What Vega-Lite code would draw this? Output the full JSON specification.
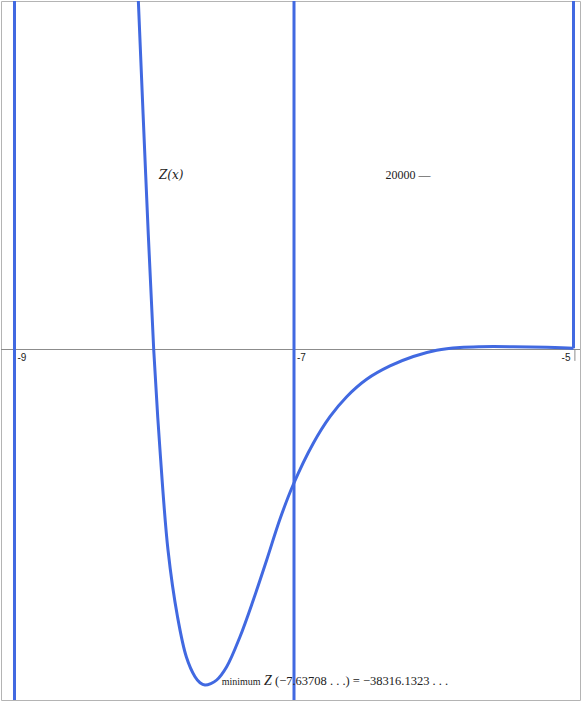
{
  "$schema": "https://vega.github.io/schema/vega-lite/v6.json",
  "width": 579,
  "height": 699,
  "padding": {"left": 1, "top": 1, "right": 1, "bottom": 1},
  "autosize": "none",
  "background": "white",
  "config": {"view": {"stroke": "#b4b4b4", "strokeWidth": 1}},
  "datasets": {
    "curve": [
      {"x": -8.146, "z": 51333},
      {"x": -8.1141, "z": 39913},
      {"x": -8.0612, "z": 19928},
      {"x": -8.0039, "z": 0},
      {"x": -7.9589, "z": -11477},
      {"x": -7.9016, "z": -22897},
      {"x": -7.8336, "z": -30514},
      {"x": -7.7707, "z": -35082},
      {"x": -7.7084, "z": -37366},
      {"x": -7.6726, "z": -38050},
      {"x": -7.6371, "z": -38316},
      {"x": -7.5950, "z": -38150},
      {"x": -7.5531, "z": -37743},
      {"x": -7.4816, "z": -36224},
      {"x": -7.3864, "z": -32798},
      {"x": -7.2912, "z": -28607},
      {"x": -7.1954, "z": -24039},
      {"x": -7.1002, "z": -19357},
      {"x": -7.005, "z": -15417},
      {"x": -6.8619, "z": -10712},
      {"x": -6.7424, "z": -7674},
      {"x": -6.6229, "z": -5390},
      {"x": -6.4798, "z": -3400},
      {"x": -6.3131, "z": -1880},
      {"x": -6.1463, "z": -800},
      {"x": -5.9789, "z": -90},
      {"x": -5.8122, "z": 230},
      {"x": -5.6691, "z": 320},
      {"x": -5.4308, "z": 320},
      {"x": -5.1918, "z": 251},
      {"x": -5.0057, "z": 137},
      {"x": -5.0, "z": 130}
    ],
    "vlines": [{"x": -9}, {"x": -7}],
    "rightline": [{"x": -5, "z": 130, "z2": 45000}],
    "zero": [{"z": 0}],
    "tickmark": [{"x": -4.99, "z": 0, "z2": -1300}],
    "ticksLeft": [{"x": -9, "z": 0, "label": "-9"}, {"x": -7, "z": 0, "label": "-7"}],
    "ticksRight": [{"x": -5, "z": 0, "label": "-5"}],
    "labelZ": [{"x": -7.879, "z": 19500, "label": "Z(x)"}],
    "label20000": [{"x": -6.345, "z": 19500, "label": "20000 —"}],
    "minWord": [{"x": -7.5174, "z": -38257, "label": "minimum"}],
    "minZ": [{"x": -7.2147, "z": -38257, "label": "Z"}],
    "minRest": [{"x": -7.1360, "z": -38257, "label": "(−7.63708 . . .) = −38316.1323 . . ."}]
  },
  "layer": [
    {
      "data": {"name": "zero"},
      "mark": {"type": "rule", "color": "#8c8c8c", "strokeWidth": 1},
      "encoding": {
        "y": {"field": "z", "type": "quantitative", "scale": {"domain": [-40027, 39799], "nice": false, "zero": false}, "axis": null}
      }
    },
    {
      "data": {"name": "tickmark"},
      "mark": {"type": "rule", "color": "#8c8c8c", "strokeWidth": 1},
      "encoding": {
        "x": {"field": "x", "type": "quantitative", "scale": {"domain": [-9.0966, -4.9535], "nice": false, "zero": false}, "axis": null},
        "y": {"field": "z", "type": "quantitative"},
        "y2": {"field": "z2"}
      }
    },
    {
      "data": {"name": "vlines"},
      "mark": {"type": "rule", "color": "#4169e1", "strokeWidth": 3},
      "encoding": {
        "x": {"field": "x", "type": "quantitative"}
      }
    },
    {
      "data": {"name": "rightline"},
      "mark": {"type": "rule", "color": "#4169e1", "strokeWidth": 3, "clip": true},
      "encoding": {
        "x": {"field": "x", "type": "quantitative"},
        "y": {"field": "z", "type": "quantitative"},
        "y2": {"field": "z2"}
      }
    },
    {
      "data": {"name": "curve"},
      "mark": {"type": "line", "color": "#4169e1", "strokeWidth": 3, "interpolate": "catmull-rom", "clip": true},
      "encoding": {
        "x": {"field": "x", "type": "quantitative"},
        "y": {"field": "z", "type": "quantitative"}
      }
    },
    {
      "data": {"name": "ticksLeft"},
      "mark": {"type": "text", "align": "left", "baseline": "top", "dx": 3, "dy": 3, "font": "Liberation Sans", "fontSize": 10, "color": "#222"},
      "encoding": {
        "x": {"field": "x", "type": "quantitative"},
        "y": {"field": "z", "type": "quantitative"},
        "text": {"field": "label"}
      }
    },
    {
      "data": {"name": "ticksRight"},
      "mark": {"type": "text", "align": "right", "baseline": "top", "dx": -3, "dy": 3, "font": "Liberation Sans", "fontSize": 10, "color": "#222"},
      "encoding": {
        "x": {"field": "x", "type": "quantitative"},
        "y": {"field": "z", "type": "quantitative"},
        "text": {"field": "label"}
      }
    },
    {
      "data": {"name": "labelZ"},
      "mark": {"type": "text", "align": "center", "baseline": "alphabetic", "font": "DejaVu Serif", "fontStyle": "italic", "fontSize": 12, "color": "#222"},
      "encoding": {
        "x": {"field": "x", "type": "quantitative"},
        "y": {"field": "z", "type": "quantitative"},
        "text": {"field": "label"}
      }
    },
    {
      "data": {"name": "label20000"},
      "mark": {"type": "text", "align": "left", "baseline": "alphabetic", "font": "Liberation Serif", "fontSize": 12, "color": "#222"},
      "encoding": {
        "x": {"field": "x", "type": "quantitative"},
        "y": {"field": "z", "type": "quantitative"},
        "text": {"field": "label"}
      }
    },
    {
      "data": {"name": "minWord"},
      "mark": {"type": "text", "align": "left", "baseline": "alphabetic", "font": "Liberation Serif", "fontSize": 10, "color": "#222"},
      "encoding": {
        "x": {"field": "x", "type": "quantitative"},
        "y": {"field": "z", "type": "quantitative"},
        "text": {"field": "label"}
      }
    },
    {
      "data": {"name": "minZ"},
      "mark": {"type": "text", "align": "left", "baseline": "alphabetic", "font": "Liberation Serif", "fontStyle": "italic", "fontSize": 14, "color": "#222"},
      "encoding": {
        "x": {"field": "x", "type": "quantitative"},
        "y": {"field": "z", "type": "quantitative"},
        "text": {"field": "label"}
      }
    },
    {
      "data": {"name": "minRest"},
      "mark": {"type": "text", "align": "left", "baseline": "alphabetic", "font": "Liberation Serif", "fontSize": 12.5, "color": "#222"},
      "encoding": {
        "x": {"field": "x", "type": "quantitative"},
        "y": {"field": "z", "type": "quantitative"},
        "text": {"field": "label"}
      }
    }
  ]
}
